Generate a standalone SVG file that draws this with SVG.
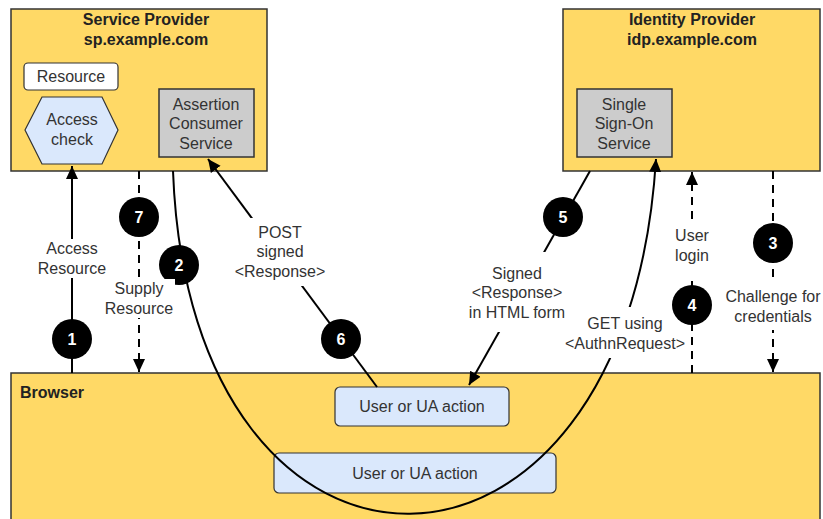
<svg xmlns="http://www.w3.org/2000/svg" width="823" height="519" viewBox="0 0 823 519">
<defs>
<marker id="arr" markerUnits="userSpaceOnUse" markerWidth="14" markerHeight="14" viewBox="0 0 14 14" refX="13" refY="7" orient="auto">
<path d="M0,1 L13,7 L0,13 Z" fill="#000"/>
</marker>
<style>
.box{fill:#FFD966;stroke:#333;stroke-width:1.5}
.gray{fill:#CCCCCC;stroke:#333;stroke-width:1.5}
.blue{fill:#DAE8FC;stroke:#333;stroke-width:1.2}
.white{fill:#fff;stroke:#333;stroke-width:1.2}
.t{font-family:"Liberation Sans",Arial,sans-serif;font-size:16px;fill:#333;text-anchor:middle}
.tb{font-family:"Liberation Sans",Arial,sans-serif;font-size:16px;font-weight:bold;fill:#222;text-anchor:middle}
.ln{fill:none;stroke:#000;stroke-width:2}
.dash{stroke-dasharray:8 6}
.bg{fill:#fff}
.num{fill:#000}
.nt{font-family:"Liberation Sans",Arial,sans-serif;font-size:16px;font-weight:bold;fill:#fff;text-anchor:middle}
</style>
</defs>
<rect width="823" height="519" fill="#fff"/>

<g id="sp">
<rect class="box" x="11" y="9" width="256" height="162"/>
<text class="tb" x="146" y="25">Service Provider</text>
<text class="tb" x="146" y="45">sp.example.com</text>
</g>
<g id="resource">
<rect class="white" x="24" y="63" width="94" height="27" rx="4"/>
<text class="t" x="71" y="82">Resource</text>
</g>
<g id="access-check">
<polygon class="blue" points="25,130 42,97 102,97 118,130 102,164 42,164"/>
<text class="t" x="72" y="125">Access</text>
<text class="t" x="72" y="145">check</text>
</g>
<g id="acs">
<rect class="gray" x="159" y="89" width="95" height="68"/>
<text class="t" x="206" y="110">Assertion</text>
<text class="t" x="206" y="129">Consumer</text>
<text class="t" x="206" y="149">Service</text>
</g>
<g id="idp">
<rect class="box" x="563" y="9" width="257" height="162"/>
<text class="tb" x="692" y="25">Identity Provider</text>
<text class="tb" x="692" y="45">idp.example.com</text>
</g>
<g id="sso">
<rect class="gray" x="577" y="89" width="95" height="68"/>
<text class="t" x="624" y="110">Single</text>
<text class="t" x="624" y="129">Sign-On</text>
<text class="t" x="624" y="149">Service</text>
</g>
<g id="browser">
<rect class="box" x="11" y="373" width="809" height="150"/>
<text class="tb" x="20" y="398" style="text-anchor:start">Browser</text>
</g>
<g id="ua1">
<rect class="blue" x="335" y="387" width="174" height="39" rx="5"/>
<text class="t" x="422" y="412">User or UA action</text>
</g>
<g id="ua2">
<rect class="blue" x="274" y="453" width="282" height="40" rx="5"/>
<text class="t" x="415" y="479">User or UA action</text>
</g>

<g id="connectors">
<!-- 1 -->
<line class="ln" x1="72" y1="373" x2="72" y2="166" marker-end="url(#arr)"/>
<rect class="bg" x="36" y="239" width="72" height="39"/>
<text class="t" x="72" y="254">Access</text>
<text class="t" x="72" y="274">Resource</text>
<circle class="num" cx="72" cy="339" r="20"/>
<text class="nt" x="72" y="345">1</text>
<!-- 2 -->
<path class="ln" d="M173,171 C190,630 627,630 656,159" marker-end="url(#arr)"/>
<rect class="bg" x="563" y="307" width="124" height="51"/>
<text class="t" x="625" y="329">GET using</text>
<text class="t" x="625" y="349">&lt;AuthnRequest&gt;</text>
<circle class="num" cx="179" cy="265" r="20"/>
<text class="nt" x="179" y="271">2</text>
<!-- 3 -->
<line class="ln dash" x1="773" y1="171" x2="773" y2="372" marker-end="url(#arr)"/>
<rect class="bg" x="724" y="282" width="98" height="48"/>
<text class="t" x="773" y="302">Challenge for</text>
<text class="t" x="773" y="322">credentials</text>
<circle class="num" cx="773" cy="243" r="20"/>
<text class="nt" x="773" y="249">3</text>
<!-- 4 -->
<line class="ln dash" x1="692" y1="373" x2="692" y2="172" marker-end="url(#arr)"/>
<rect class="bg" x="672" y="222" width="40" height="56"/>
<text class="t" x="692" y="241">User</text>
<text class="t" x="692" y="261">login</text>
<circle class="num" cx="692" cy="305" r="20"/>
<text class="nt" x="692" y="311">4</text>
<!-- 5 -->
<line class="ln" x1="590" y1="171" x2="469" y2="385" marker-end="url(#arr)"/>
<rect class="bg" x="466" y="252" width="102" height="80"/>
<text class="t" x="517" y="279">Signed</text>
<text class="t" x="517" y="298">&lt;Response&gt;</text>
<text class="t" x="517" y="318">in HTML form</text>
<circle class="num" cx="563" cy="217" r="20"/>
<text class="nt" x="563" y="223">5</text>
<!-- 6 -->
<line class="ln" x1="377" y1="387" x2="208" y2="159" marker-end="url(#arr)"/>
<rect class="bg" x="232" y="218" width="96" height="68"/>
<text class="t" x="280" y="238">POST</text>
<text class="t" x="280" y="257">signed</text>
<text class="t" x="280" y="277">&lt;Response&gt;</text>
<circle class="num" cx="341" cy="339" r="20"/>
<text class="nt" x="341" y="345">6</text>
<!-- 7 -->
<line class="ln dash" x1="139" y1="171" x2="139" y2="372" marker-end="url(#arr)"/>
<rect class="bg" x="103" y="279" width="72" height="39"/>
<text class="t" x="139" y="294">Supply</text>
<text class="t" x="139" y="314">Resource</text>
<circle class="num" cx="139" cy="217" r="20"/>
<text class="nt" x="139" y="223">7</text>
</g>
</svg>
